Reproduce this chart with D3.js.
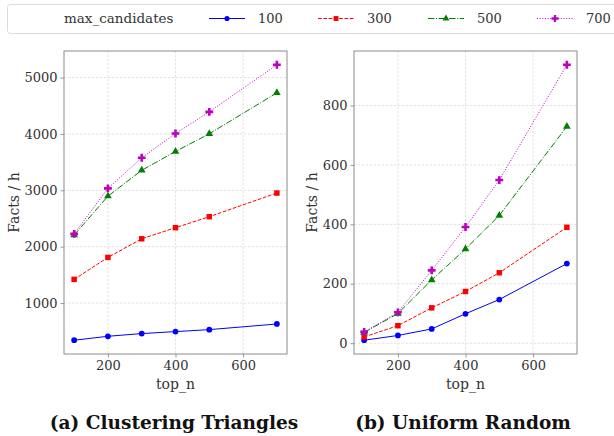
<!DOCTYPE html>
<html>
<head>
<meta charset="UTF-8">
<script src="https://cdn.jsdelivr.net/npm/d3@7"></script>
<style>
    body { margin: 0; background: #fff; }
    .grid line { stroke: #d9d9d9; stroke-dasharray: 2.5,1.5; stroke-width: 0.8; }
    .tick line { stroke: #999; }
</style>
</head>
<body>
<svg id="chart" width="614" height="436"></svg>
<script>
// data
const topN = [100, 200, 300, 400, 500, 700];
const candidateLabels = ["100", "300", "500", "700"];

// (a) Clustering Triangles, facts / h
const clustering100 = [340, 410, 458, 493, 528, 628];
const clustering300 = [1420, 1810, 2140, 2337, 2532, 2952];
const clustering500 = [2206, 2897, 3355, 3690, 4003, 4730];
const clustering700 = [2228, 3034, 3578, 4009, 4393, 5228];

// (b) Uniform Random, facts / h
const uniform100 = [10, 26, 48, 99, 147, 268];
const uniform300 = [21, 59, 119, 174, 237, 390];
const uniform500 = [36, 100, 213, 317, 430, 729];
const uniform700 = [38, 104, 245, 391, 549, 937];

const xTicks = [200, 400, 600];
const yTicksA = [1000, 2000, 3000, 4000, 5000];
const yTicksB = [0, 200, 400, 600, 800];

// Liberation Serif falls back to sans here, DejaVu Serif works
const serif = "'DejaVu Serif', serif";
const fs = "13px";

const styles = [
    { color: "#0000ff", dash: null, symbol: d3.symbolCircle, size: 26 },
    { color: "#ff0000", dash: "3.7,1.6", symbol: d3.symbolSquare, size: 30 },
    { color: "#008000", dash: "6.4,1.6,1,1.6", symbol: d3.symbolTriangle, size: 26 },
    { color: "#bf00bf", dash: "1,1.65", symbol: d3.symbolCross, size: 34 }
];

const svg = d3.select("#chart");

function padDomain(arr) {
    const lo = d3.min(arr), hi = d3.max(arr);
    const m = (hi - lo) * 0.05;
    return [lo - m, hi + m];
}

function label(sel, size) {
    return sel.style("font-family", serif).style("font-size", size || fs).attr("fill", "#333");
}

function drawPanel(opts) {
    const { left, right, top, bottom, series, yTicks, caption, captionX, ylabelX } = opts;
    const x = d3.scaleLinear().domain(padDomain(topN)).range([left, right]);
    const y = d3.scaleLinear().domain(padDomain(series.flat())).range([bottom, top]);

    const g = svg.append("g");

    // grid
    const grid = g.append("g").attr("class", "grid");
    grid.selectAll(".gx").data(xTicks).enter().append("line")
        .attr("x1", d => x(d)).attr("x2", d => x(d))
        .attr("y1", top).attr("y2", bottom);
    grid.selectAll(".gy").data(yTicks).enter().append("line")
        .attr("x1", left).attr("x2", right)
        .attr("y1", d => y(d)).attr("y2", d => y(d));

    // axes
    const xAxis = g.append("g")
        .attr("transform", `translate(0,${bottom})`)
        .call(d3.axisBottom(x).tickValues(xTicks).tickSize(3.5).tickPadding(3.5).tickFormat(d3.format("d")));
    const yAxis = g.append("g")
        .attr("transform", `translate(${left},0)`)
        .call(d3.axisLeft(y).tickValues(yTicks).tickSize(3.5).tickPadding(3).tickFormat(d3.format("d")));
    [xAxis, yAxis].forEach(a => {
        a.select(".domain").remove();
        label(a.selectAll("text"));
    });

    // frame
    g.append("rect")
        .attr("x", left).attr("y", top)
        .attr("width", right - left).attr("height", bottom - top)
        .attr("fill", "none").attr("stroke", "#8c8c8c").attr("stroke-width", 1);

    // series
    const line = d3.line().x((d, i) => x(topN[i])).y(d => y(d));
    series.forEach((vals, k) => {
        const s = styles[k];
        g.append("path")
            .attr("d", line(vals))
            .attr("fill", "none")
            .attr("stroke", s.color)
            .attr("stroke-width", 1)
            .attr("stroke-dasharray", s.dash);
        g.selectAll(null).data(vals).enter().append("path")
            .attr("d", d3.symbol().type(s.symbol).size(s.size))
            .attr("transform", (d, i) => `translate(${x(topN[i])},${y(d)})`)
            .attr("fill", s.color);
    });

    // labels
    label(g.append("text"), "14px")
        .attr("x", (left + right) / 2).attr("y", 389)
        .attr("text-anchor", "middle")
        .text("top_n");
    label(g.append("text"), "14px")
        .attr("transform", `translate(${ylabelX},${(top + bottom) / 2}) rotate(-90)`)
        .attr("text-anchor", "middle")
        .text("Facts / h");
    g.append("text")
        .attr("x", captionX).attr("y", 429)
        .attr("text-anchor", "middle")
        .style("font-family", serif).style("font-size", "18.5px").style("font-weight", "bold")
        .attr("fill", "#111")
        .text(caption);
}

drawPanel({
    left: 64, right: 287, top: 51, bottom: 354,
    series: [clustering100, clustering300, clustering500, clustering700],
    yTicks: yTicksA, caption: "(a) Clustering Triangles", captionX: 174, ylabelX: 19
});
drawPanel({
    left: 354, right: 577, top: 51, bottom: 354,
    series: [uniform100, uniform300, uniform500, uniform700],
    yTicks: yTicksB, caption: "(b) Uniform Random", captionX: 463, ylabelX: 317
});

// legend
const legend = svg.append("g");
legend.append("rect")
    .attr("x", 7.5).attr("y", 4.5).attr("width", 620).attr("height", 29)
    .attr("rx", 3).attr("fill", "#fff").attr("stroke", "#dcdcdc");
label(legend.append("text"), "13.5px")
    .attr("x", 64).attr("y", 23)
    .text("max_candidates");
const entryX = [209, 318, 428, 537];
candidateLabels.forEach((lab, k) => {
    const s = styles[k];
    const x0 = entryX[k];
    legend.append("line")
        .attr("x1", x0).attr("x2", x0 + 36).attr("y1", 18.5).attr("y2", 18.5)
        .attr("stroke", s.color).attr("stroke-width", 1).attr("stroke-dasharray", s.dash);
    legend.append("path")
        .attr("d", d3.symbol().type(s.symbol).size(s.size * 0.8))
        .attr("transform", `translate(${x0 + 18},18.5)`)
        .attr("fill", s.color);
    label(legend.append("text"))
        .attr("x", x0 + 49).attr("y", 23)
        .text(lab);
});
</script>
</body>
</html>
